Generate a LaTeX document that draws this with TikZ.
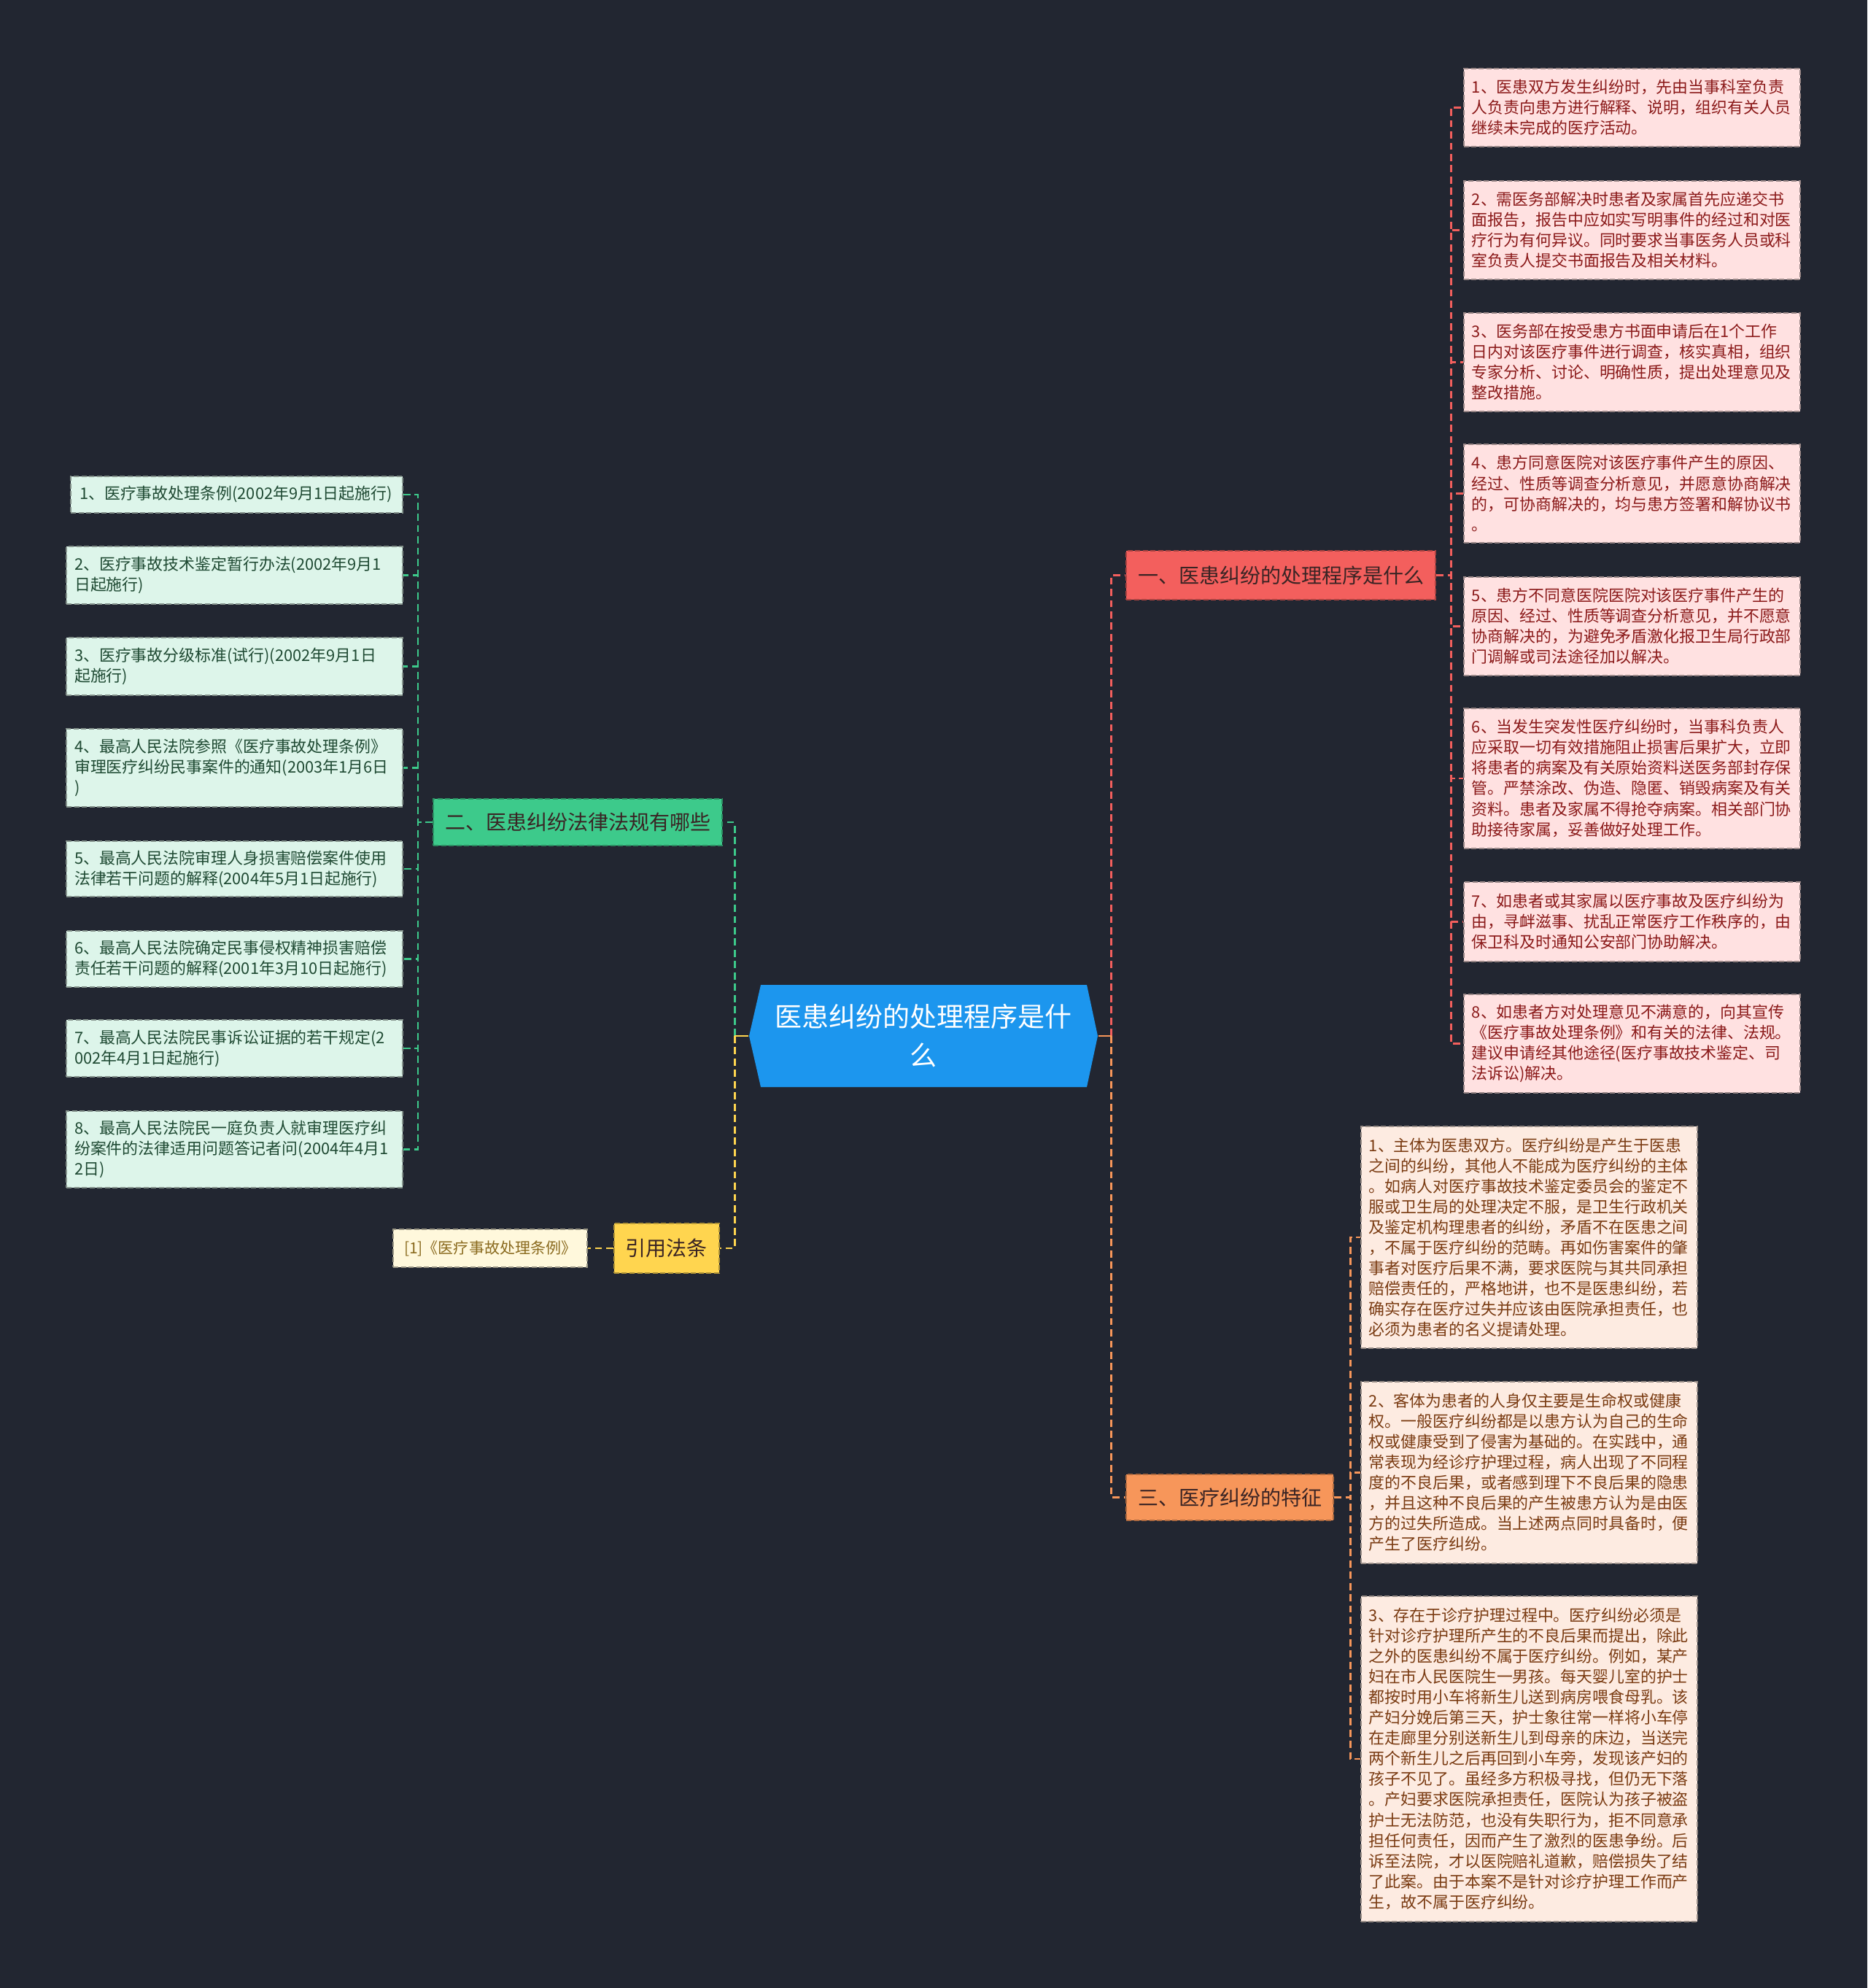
\documentclass[tikz,border=0pt]{standalone}
\usepackage{fontspec}
\setmainfont{Noto Sans CJK SC}

\definecolor{bgdark}{HTML}{222631}
\definecolor{rootblue}{HTML}{1C96EE}
\definecolor{brred}{HTML}{F35F5D}
\definecolor{brgreen}{HTML}{3DCA8B}
\definecolor{brorange}{HTML}{F7965A}
\definecolor{bryellow}{HTML}{FFD54F}
\definecolor{leafred}{HTML}{FFE1E1}
\definecolor{leaforange}{HTML}{FDEBE1}
\definecolor{leafgreen}{HTML}{DDF5EA}
\definecolor{leafyellow}{HTML}{FFF8DC}
\definecolor{txtred}{HTML}{8B1A1A}
\definecolor{txtorange}{HTML}{7A3B12}
\definecolor{txtgreen}{HTML}{1F4A33}
\definecolor{txtyellow}{HTML}{8A6A1E}
\definecolor{txtdark}{HTML}{3A2424}

\begin{document}
\begin{tikzpicture}[
    leaf/.style={anchor=north west, text width=4.39cm, inner xsep=0.11cm, inner ysep=0pt,
      align=left, line width=0.5pt, dash pattern=on 2pt off 1pt,
      font=\fontsize{6.23pt}{7.97pt}\selectfont},
    redleaf/.style={leaf, fill=leafred, draw=leafred!60!black, text=txtred},
    orangeleaf/.style={leaf, fill=leaforange, draw=leaforange!60!black, text=txtorange},
    greenleaf/.style={leaf, anchor=north east, fill=leafgreen, draw=leafgreen!60!black, text=txtgreen},
    branch/.style={inner xsep=0.16cm, inner ysep=0pt, line width=0.6pt,
      dash pattern=on 2pt off 1pt, text=txtdark, font=\fontsize{7.97pt}{9pt}\selectfont},
    link/.style={line width=0.75pt, dash pattern=on 2.8pt off 1.6pt},
  ]
  \fill[bgdark] (0,0) rectangle (25.6,-27.25);
  \useasboundingbox (0,0) rectangle (25.6,-27.25);

  % centre
  \node[minimum width=4.78cm, minimum height=1.4cm, inner sep=0pt, fill=bgdark, text=white,
    align=center, font=\fontsize{10.53pt}{15.1pt}\selectfont,
    path picture={\fill[rootblue]
      ([xshift=0.16cm]path picture bounding box.north west) -- ([xshift=-0.15cm]path picture bounding box.north east)
      -- (path picture bounding box.east) -- ([xshift=-0.15cm]path picture bounding box.south east)
      -- ([xshift=0.16cm]path picture bounding box.south west) -- (path picture bounding box.west) -- cycle;}]
    (root) at (12.66,-14.20) {医患纠纷的处理程序是什\\么};

  % branches
  \node[branch, anchor=west, fill=brred, draw=brred!70!black, minimum height=0.67cm] (b1) at (15.43,-7.885) {一、医患纠纷的处理程序是什么};
  \node[branch, anchor=west, fill=brgreen, draw=brgreen!70!black, minimum height=0.64cm] (b2) at (5.93,-11.27) {二、医患纠纷法律法规有哪些};
  \node[branch, anchor=west, fill=brorange, draw=brorange!70!black, minimum height=0.63cm] (b3) at (15.43,-20.525) {三、医疗纠纷的特征};
  \node[branch, anchor=east, fill=bryellow, draw=bryellow!70!black, minimum height=0.68cm] (y1) at (9.87,-17.11) {引用法条};
  \node[anchor=east, fill=leafyellow, draw=leafyellow!60!black, text=txtyellow, line width=0.5pt,
    dash pattern=on 2pt off 1pt, inner xsep=0.15cm, inner ysep=0pt, minimum height=0.52cm,
    font=\fontsize{5.98pt}{7pt}\selectfont] (yc) at (8.06,-17.11) {[1]《医疗事故处理条例》};

  % branch one
  \node[redleaf, minimum height=1.07cm] (r1) at (20.06,-0.93) {1、医患双方发生纠纷时，先由当事科室负责\\人负责向患方进行解释、说明，组织有关人员\\继续未完成的医疗活动。};
  \node[redleaf, minimum height=1.35cm] (r2) at (20.06,-2.47) {2、需医务部解决时患者及家属首先应递交书\\面报告，报告中应如实写明事件的经过和对医\\疗行为有何异议。同时要求当事医务人员或科\\室负责人提交书面报告及相关材料。};
  \node[redleaf, minimum height=1.35cm] (r3) at (20.06,-4.28) {3、医务部在按受患方书面申请后在1个工作\\日内对该医疗事件进行调查，核实真相，组织\\专家分析、讨论、明确性质，提出处理意见及\\整改措施。};
  \node[redleaf, minimum height=1.35cm] (r4) at (20.06,-6.08) {4、患方同意医院对该医疗事件产生的原因、\\经过、性质等调查分析意见，并愿意协商解决\\的，可协商解决的，均与患方签署和解协议书\\。};
  \node[redleaf, minimum height=1.35cm] (r5) at (20.06,-7.90) {5、患方不同意医院医院对该医疗事件产生的\\原因、经过、性质等调查分析意见，并不愿意\\协商解决的，为避免矛盾激化报卫生局行政部\\门调解或司法途径加以解决。};
  \node[redleaf, minimum height=1.92cm] (r6) at (20.06,-9.70) {6、当发生突发性医疗纠纷时，当事科负责人\\应采取一切有效措施阻止损害后果扩大，立即\\将患者的病案及有关原始资料送医务部封存保\\管。严禁涂改、伪造、隐匿、销毁病案及有关\\资料。患者及家属不得抢夺病案。相关部门协\\助接待家属，妥善做好处理工作。};
  \node[redleaf, minimum height=1.09cm] (r7) at (20.06,-12.08) {7、如患者或其家属以医疗事故及医疗纠纷为\\由，寻衅滋事、扰乱正常医疗工作秩序的，由\\保卫科及时通知公安部门协助解决。};
  \node[redleaf, minimum height=1.35cm] (r8) at (20.06,-13.62) {8、如患者方对处理意见不满意的，向其宣传\\《医疗事故处理条例》和有关的法律、法规。\\建议申请经其他途径(医疗事故技术鉴定、司\\法诉讼)解决。};

  % branch three
  \node[orangeleaf, minimum height=3.04cm] (o1) at (18.65,-15.43) {1、主体为医患双方。医疗纠纷是产生于医患\\之间的纠纷，其他人不能成为医疗纠纷的主体\\。如病人对医疗事故技术鉴定委员会的鉴定不\\服或卫生局的处理决定不服，是卫生行政机关\\及鉴定机构理患者的纠纷，矛盾不在医患之间\\，不属于医疗纠纷的范畴。再如伤害案件的肇\\事者对医疗后果不满，要求医院与其共同承担\\赔偿责任的，严格地讲，也不是医患纠纷，若\\确实存在医疗过失并应该由医院承担责任，也\\必须为患者的名义提请处理。};
  \node[orangeleaf, minimum height=2.49cm] (o2) at (18.65,-18.93) {2、客体为患者的人身仅主要是生命权或健康\\权。一般医疗纠纷都是以患方认为自己的生命\\权或健康受到了侵害为基础的。在实践中，通\\常表现为经诊疗护理过程，病人出现了不同程\\度的不良后果，或者感到理下不良后果的隐患\\，并且这种不良后果的产生被患方认为是由医\\方的过失所造成。当上述两点同时具备时，便\\产生了医疗纠纷。};
  \node[orangeleaf, minimum height=4.46cm] (o3) at (18.65,-21.87) {3、存在于诊疗护理过程中。医疗纠纷必须是\\针对诊疗护理所产生的不良后果而提出，除此\\之外的医患纠纷不属于医疗纠纷。例如，某产\\妇在市人民医院生一男孩。每天婴儿室的护士\\都按时用小车将新生儿送到病房喂食母乳。该\\产妇分娩后第三天，护士象往常一样将小车停\\在走廊里分别送新生儿到母亲的床边，当送完\\两个新生儿之后再回到小车旁，发现该产妇的\\孩子不见了。虽经多方积极寻找，但仍无下落\\。产妇要求医院承担责任，医院认为孩子被盗\\护士无法防范，也没有失职行为，拒不同意承\\担任何责任，因而产生了激烈的医患争纷。后\\诉至法院，才以医院赔礼道歉，赔偿损失了结\\了此案。由于本案不是针对诊疗护理工作而产\\生，故不属于医疗纠纷。};

  % branch two
  \node[greenleaf, text width=4.31cm, inner xsep=0.12cm, minimum height=0.50cm] (g1) at (5.53,-6.52) {1、医疗事故处理条例(2002年9月1日起施行)};
  \node[greenleaf, minimum height=0.79cm] (g2) at (5.53,-7.48) {2、医疗事故技术鉴定暂行办法(2002年9月1\\日起施行)};
  \node[greenleaf, minimum height=0.79cm] (g3) at (5.53,-8.73) {3、医疗事故分级标准(试行)(2002年9月1日\\起施行)};
  \node[greenleaf, minimum height=1.07cm] (g4) at (5.53,-9.98) {4、最高人民法院参照《医疗事故处理条例》\\审理医疗纠纷民事案件的通知(2003年1月6日\\)};
  \node[greenleaf, minimum height=0.76cm] (g5) at (5.53,-11.52) {5、最高人民法院审理人身损害赔偿案件使用\\法律若干问题的解释(2004年5月1日起施行)};
  \node[greenleaf, minimum height=0.77cm] (g6) at (5.53,-12.75) {6、最高人民法院确定民事侵权精神损害赔偿\\责任若干问题的解释(2001年3月10日起施行)};
  \node[greenleaf, minimum height=0.78cm] (g7) at (5.53,-13.97) {7、最高人民法院民事诉讼证据的若干规定(2\\002年4月1日起施行)};
  \node[greenleaf, minimum height=1.05cm] (g8) at (5.53,-15.22) {8、最高人民法院民一庭负责人就审理医疗纠\\纷案件的法律适用问题答记者问(2004年4月1\\2日)};

  % connectors
  \coordinate (rj) at ([xshift=0.18cm]root.east);
  \coordinate (lj) at ([xshift=-0.19cm]root.west);
  \draw[link, brred] (rj) |- (b1.west);
  \draw[link, brorange] (rj) |- (b3.west);
  \draw[link, brgreen] (lj) |- (b2.east);
  \draw[link, bryellow] (lj) |- (y1.east);
  \draw[line width=0.75pt, brorange] (root.east) -- (rj);
  \draw[line width=0.75pt, bryellow] (root.west) -- (lj);
  \draw[link, bryellow] (y1.west) -- (yc.east);

  \draw[link, brred] (b1.east) -- ++(0.2,0) |- (r1.west);
  \draw[link, brred] (b1.east) -- ++(0.2,0) |- (r2.west);
  \draw[link, brred] (b1.east) -- ++(0.2,0) |- (r3.west);
  \draw[link, brred] (b1.east) -- ++(0.2,0) |- (r4.west);
  \draw[link, brred] (b1.east) -- ++(0.2,0) |- (r5.west);
  \draw[link, brred] (b1.east) -- ++(0.2,0) |- (r6.west);
  \draw[link, brred] (b1.east) -- ++(0.2,0) |- (r7.west);
  \draw[link, brred] (b1.east) -- ++(0.2,0) |- (r8.west);

  \draw[link, brorange] (b3.east) -- ++(0.22,0) |- (o1.west);
  \draw[link, brorange] (b3.east) -- ++(0.22,0) |- (o2.west);
  \draw[link, brorange] (b3.east) -- ++(0.22,0) |- (o3.west);

  \draw[link, brgreen] (b2.west) -- ++(-0.2,0) |- (g1.east);
  \draw[link, brgreen] (b2.west) -- ++(-0.2,0) |- (g2.east);
  \draw[link, brgreen] (b2.west) -- ++(-0.2,0) |- (g3.east);
  \draw[link, brgreen] (b2.west) -- ++(-0.2,0) |- (g4.east);
  \draw[link, brgreen] (b2.west) -- ++(-0.2,0) |- (g5.east);
  \draw[link, brgreen] (b2.west) -- ++(-0.2,0) |- (g6.east);
  \draw[link, brgreen] (b2.west) -- ++(-0.2,0) |- (g7.east);
  \draw[link, brgreen] (b2.west) -- ++(-0.2,0) |- (g8.east);
\end{tikzpicture}
\end{document}
